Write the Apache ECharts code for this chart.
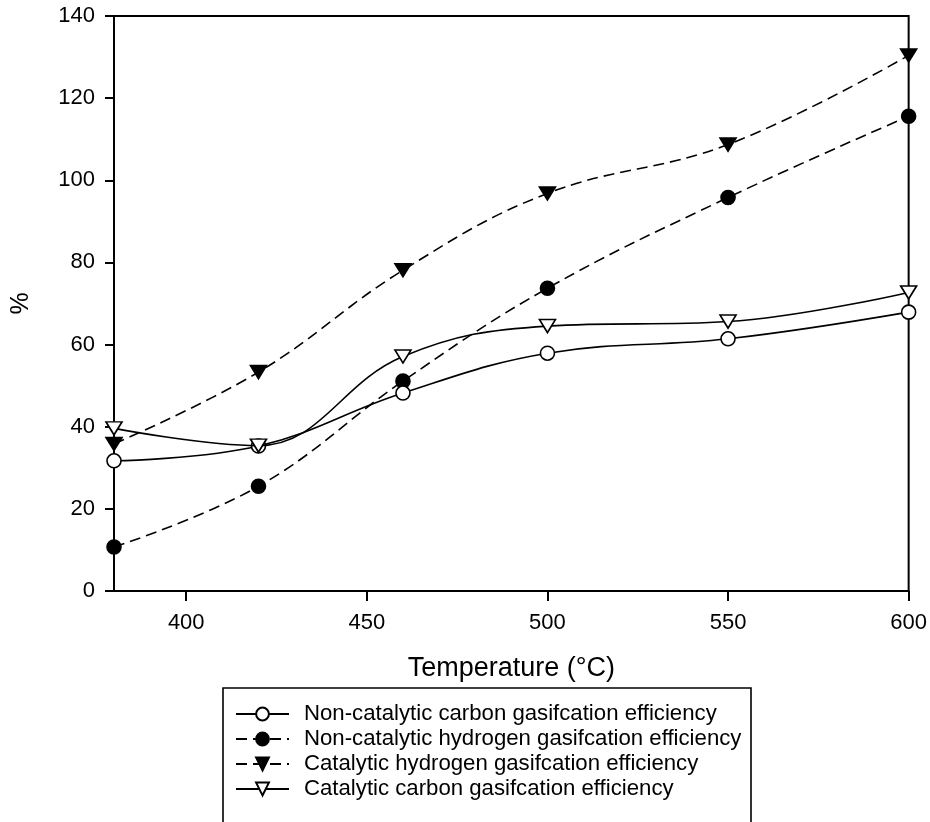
<!DOCTYPE html>
<html>
<head>
<meta charset="utf-8">
<script src="https://cdn.jsdelivr.net/npm/echarts@6/dist/echarts.min.js"></script>
<style>
  html, body { margin: 0; padding: 0; background: #fff; }
  #chart { width: 930px; height: 822px; }
</style>
</head>
<body>
<div id="chart"></div>
<script>
// Reaction temperature (°C)
const temperatures = [380, 420, 460, 500, 550, 600];

// Gasification efficiencies (%)
const nonCatCarbon   = [31.7, 35.3, 48.2, 57.9, 61.4, 67.9];
const nonCatHydrogen = [10.7, 25.5, 51.1, 73.7, 95.8, 115.6];
const catHydrogen    = [35.8, 53.3, 78.1, 96.8, 108.7, 130.4];
const catCarbon      = [39.6, 35.4, 57.1, 64.5, 65.6, 72.7];

const xTicks = [400, 450, 500, 550, 600];
const yTicks = [0, 20, 40, 60, 80, 100, 120, 140];

const seriesNames = [
  'Non-catalytic carbon gasifcation efficiency',
  'Non-catalytic hydrogen gasifcation efficiency',
  'Catalytic hydrogen gasifcation efficiency',
  'Catalytic carbon gasifcation efficiency'
];

const FONT = 'Liberation Sans, Arial, sans-serif';

function pairs(values) {
  return temperatures.map((t, i) => [t, values[i]]);
}

function makeSeries(name, values, opts) {
  return {
    name: name,
    type: 'line',
    data: pairs(values),
    smooth: 0.4,
    symbol: opts.symbol,
    symbolSize: opts.size,
    symbolRotate: opts.rotate || 0,
    showSymbol: true,
    clip: false,
    z: opts.z,
    lineStyle: { color: '#000', width: 1.6, type: opts.dashed ? [11, 6] : 'solid' },
    itemStyle: {
      color: opts.filled ? '#000' : '#fff',
      borderColor: '#000',
      borderWidth: 1.6
    },
    emphasis: { disabled: true },
    animation: false
  };
}

const chart = echarts.init(document.getElementById('chart'), null, { renderer: 'canvas' });

chart.setOption({
  backgroundColor: '#fff',
  animation: false,
  grid: {
    left: 114, right: 20, top: 16, bottom: 231,
    show: true, borderColor: '#000', borderWidth: 2, backgroundColor: 'transparent'
  },
  xAxis: {
    type: 'value',
    min: 380, max: 600,
    name: 'Temperature (°C)',
    nameLocation: 'middle',
    nameGap: 64,
    nameTextStyle: { color: '#000', fontSize: 27, fontFamily: FONT },
    axisLine: { show: true, onZero: false, lineStyle: { color: '#000', width: 2 } },
    axisTick: { show: true, length: 10, customValues: xTicks, lineStyle: { color: '#000', width: 2 } },
    axisLabel: { customValues: xTicks, color: '#000', fontSize: 22, fontFamily: FONT, margin: 21 },
    splitLine: { show: false }
  },
  yAxis: {
    type: 'value',
    min: 0, max: 140, interval: 20,
    name: '%',
    nameLocation: 'middle',
    nameGap: 80,
    nameRotate: 90,
    nameTextStyle: { color: '#000', fontSize: 25, fontFamily: FONT },
    axisLine: { show: true, lineStyle: { color: '#000', width: 2 } },
    axisTick: { show: true, length: 9, customValues: yTicks, lineStyle: { color: '#000', width: 2 } },
    axisLabel: { customValues: yTicks, color: '#000', fontSize: 22, fontFamily: FONT, margin: 19 },
    splitLine: { show: false }
  },
  legend: {
    orient: 'vertical',
    left: 235, top: 703,
    padding: 0,
    itemGap: 3,
    itemWidth: 53,
    itemHeight: 16,
    selectedMode: false,
    textStyle: { color: '#000', fontSize: 22.2, lineHeight: 22, fontFamily: FONT, padding: [0, 0, 0, 10] },
    data: seriesNames
  },
  graphic: [{
    type: 'rect',
    shape: { x: 223, y: 688, width: 528, height: 140 },
    style: { fill: 'none', stroke: '#000', lineWidth: 1.6 },
    silent: true,
    z: 10
  }],
  series: [
    makeSeries(seriesNames[0], nonCatCarbon,   { symbol: 'circle',   size: 14, filled: false, dashed: false, z: 4 }),
    makeSeries(seriesNames[1], nonCatHydrogen, { symbol: 'circle',   size: 14, filled: true,  dashed: true,  z: 3 }),
    makeSeries(seriesNames[2], catHydrogen,    { symbol: 'triangle', size: [16, 13], filled: true,  dashed: true,  rotate: 180, z: 3 }),
    makeSeries(seriesNames[3], catCarbon,      { symbol: 'triangle', size: [16, 13], filled: false, dashed: false, rotate: 180, z: 5 })
  ]
});
</script>
</body>
</html>
